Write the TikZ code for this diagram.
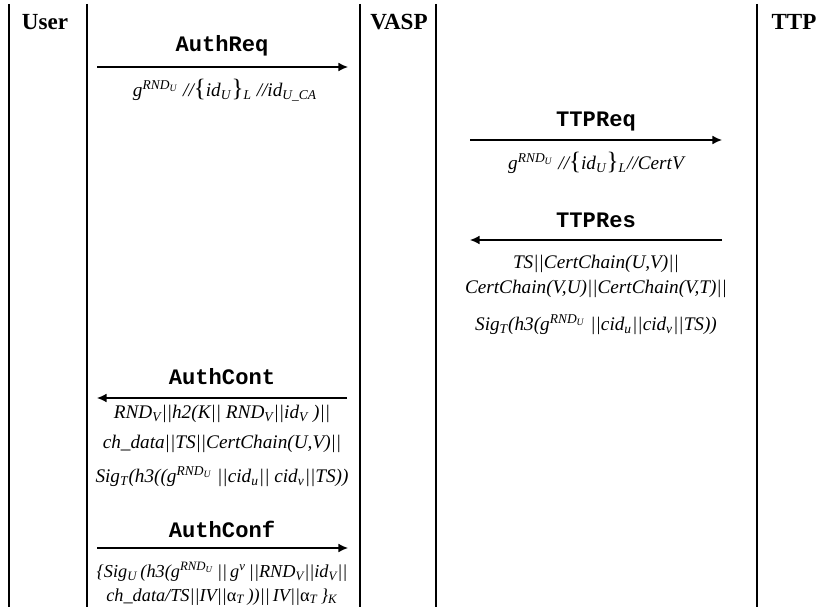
\documentclass[tikz,border=0pt]{standalone}
\usepackage{fontspec}
\setmainfont{Liberation Serif}
\setmonofont{Liberation Mono}
\usetikzlibrary{arrows.meta}

\newcommand{\msub}[1]{\textsubscript{#1}}
\newcommand{\msup}[1]{\textsuperscript{#1}}
\newcommand{\gRnd}{g\msup{RND\msub{U}}}
\newcommand{\alphaT}{{\upshape α}\msub{T}}
\newcommand{\bigbr}[1]{{\fontsize{13}{13}\selectfont\upshape #1}}

\begin{document}
\begin{tikzpicture}[x=0.52pt,y=-0.52pt]
            \tikzstyle{lane}=[draw=black,line width=0.8pt]
            \tikzstyle{msg}=[draw=black,line width=0.7pt,-{Latex[length=5pt,width=4.6pt]}]
            \tikzstyle{party}=[font=\fontsize{12}{13}\selectfont\bfseries,inner sep=0pt]
            \tikzstyle{label}=[font=\fontsize{11.5}{13}\selectfont\ttfamily\bfseries,inner sep=0pt]
            \tikzstyle{data}=[font=\fontsize{10}{12}\selectfont\itshape,inner sep=0pt]
            \tikzstyle{tight}=[data,font=\fontsize{9.5}{12}\selectfont\itshape]

            \useasboundingbox (0,0) rectangle (824,607);

            % lanes
            \foreach \x in {9,87,360,436,757}
                \draw[lane] (\x,4) -- (\x,607);

            \node[party] (user) at (45,22)  {User};
            \node[party] (vasp) at (399,22) {VASP};
            \node[party] (ttp)  at (794,22) {TTP};

            % AuthReq
            \node[label] (authreq) at (222,46) {AuthReq};
            \coordinate (reqL) at (97,67);
            \coordinate (reqR) at (348,67);
            \node[data] (reqmsg) at (225,90) {\gRnd{} //\bigbr{\{}id\msub{U}\bigbr{\}}\msub{L} //id\msub{U\_CA}};

            % TTPReq
            \node[label] (ttpreq) at (596,122) {TTPReq};
            \coordinate (treqL) at (470,140);
            \coordinate (treqR) at (722,140);
            \node[data] (treqmsg) at (596,163) {\gRnd{} //\bigbr{\{}id\msub{U}\bigbr{\}}\msub{L}//CertV};

            % TTPRes
            \node[label] (ttpres) at (596,220) {TTPRes};
            \coordinate (tresL) at (470,240);
            \coordinate (tresR) at (722,240);
            \node[data] (resA) at (596,264) {TS||CertChain(U,V)||};
            \node[data] (resB) at (596,289) {CertChain(V,U)||CertChain(V,T)||};
            \node[data] (resC) at (596,325) {Sig\msub{T}(h3(\gRnd{} ||cid\msub{u}||cid\msub{v}||TS))};

            % AuthCont
            \node[label] (authcont) at (222,377) {AuthCont};
            \coordinate (contL) at (97,398);
            \coordinate (contR) at (347,398);
            \node[data] (contA) at (222,414) {RND\msub{V}||h2(K|| RND\msub{V}||id\msub{V} )||};
            \node[data] (contB) at (222,444) {ch\_data||TS||CertChain(U,V)||};
            \node[data] (contC) at (222,477) {Sig\msub{T}(h3((\gRnd{} ||cid\msub{u}|| cid\msub{v}||TS))};

            % AuthConf
            \node[label] (authconf) at (222,529) {AuthConf};
            \coordinate (confL) at (97,548);
            \coordinate (confR) at (348,548);
            \node[tight] (confA) at (222,572) {\{Sig\msub{U}\,(h3(\gRnd{}\,||\,g\msup{v}\,||RND\msub{V}||id\msub{V}||};
            \node[tight] (confB) at (222,597) {ch\_data/TS||IV||\alphaT{}\,))||\,IV||\alphaT{}\,\}\msub{K}};

            \path[msg] (reqL) -- (reqR);
            \path[msg] (treqL) -- (treqR);
            \path[msg] (tresR) -- (tresL);
            \path[msg] (contR) -- (contL);
            \path[msg] (confL) -- (confR);
        \end{tikzpicture}
\end{document}
